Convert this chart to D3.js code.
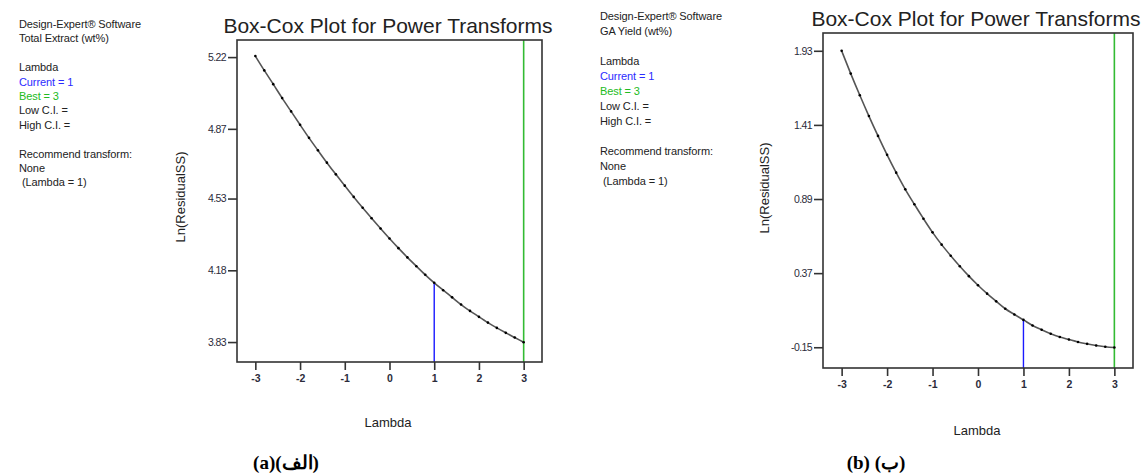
<!DOCTYPE html>
<html lang="en">
<head>
<meta charset="utf-8">
<title>Box-Cox Plots</title>
<script src="https://d3js.org/d3.v7.min.js"></script>
<style>
  body { margin: 0; background: #fff; }
  svg { display: block; font-family: "Liberation Sans", Arial, sans-serif; }
  .tick text { fill: #2b2b3a; font-size: 10.5px; }
  .tick line { stroke: #333; stroke-width: 1.6; }
</style>
</head>
<body>
<svg id="chart" width="1146" height="474"></svg>
<script>
// ---- data ----
var lambdas = [-3, -2.8, -2.6, -2.4, -2.2, -2, -1.8, -1.6, -1.4, -1.2, -1, -0.8, -0.6, -0.4, -0.2,
  0, 0.2, 0.4, 0.6, 0.8, 1, 1.2, 1.4, 1.6, 1.8, 2, 2.2, 2.4, 2.6, 2.8, 3];

var lnSSExtract = [5.225, 5.155, 5.088, 5.020, 4.955, 4.890, 4.826, 4.765, 4.705, 4.648, 4.593,
  4.538, 4.485, 4.434, 4.384, 4.335, 4.288, 4.243, 4.200, 4.158, 4.119, 4.083, 4.048, 4.013,
  3.982, 3.953, 3.925, 3.899, 3.875, 3.852, 3.829];

var lnSSYield = [1.930, 1.770, 1.618, 1.472, 1.333, 1.200, 1.075, 0.958, 0.853, 0.752, 0.656,
  0.570, 0.492, 0.418, 0.349, 0.285, 0.226, 0.172, 0.120, 0.080, 0.042, 0.003, -0.027, -0.055,
  -0.078, -0.096, -0.113, -0.126, -0.138, -0.146, -0.152];

var xTicks = [-3, -2, -1, 0, 1, 2, 3];
var yTicksExtract = [3.83, 4.18, 4.53, 4.87, 5.22];
var yTicksYield = [-0.15, 0.37, 0.89, 1.41, 1.93];

var currentLambda = 1;
var bestLambda = 3;

var infoExtract = ["Design-Expert\u00AE Software", "Total Extract (wt%)", "", "Lambda",
  "Current = 1", "Best = 3", "Low C.I. =", "High C.I. =", "", "Recommend transform:", "None", " (Lambda = 1)"];
var infoYield = ["Design-Expert\u00AE Software", "GA Yield (wt%)", "", "Lambda",
  "Current = 1", "Best = 3", "Low C.I. =", "High C.I. =", "", "Recommend transform:", "None", " (Lambda = 1)"];

var svg = d3.select('#chart');

// plain hyphen for negatives, like the original software
function fmt(spec) {
  var f = d3.format(spec);
  return function(d) { return f(d).replace('\u2212', '-'); };
}

function drawPanel(p) {
  var g = svg.append('g');

  // info block on the left
  g.append('text')
    .attr('x', p.infoX)
    .attr('y', p.infoY)
    .style('font-size', '11px')
    .style('letter-spacing', '-0.1px')
    .selectAll('tspan')
    .data(p.info)
    .enter()
    .append('tspan')
    .attr('x', p.infoX)
    .attr('dy', function(d, i) { return i === 0 ? 0 : p.infoLine; })
    .attr('fill', function(d) {
      if (d.indexOf('Current') === 0) return '#2b2bff';
      if (d.indexOf('Best') === 0) return '#22bb22';
      return '#222';
    })
    .attr('xml:space', 'preserve')
    .text(function(d) { return d === '' ? '\u00A0' : d; });

  var x = d3.scaleLinear().domain([-3.41, 3.41]).range([p.x0, p.x1]);
  var lo = d3.min(p.yTicks), hi = d3.max(p.yTicks), span = hi - lo;
  var y = d3.scaleLinear().domain([lo - 0.07 * span, hi + 0.06 * span]).range([p.y1, p.y0]);

  // axes
  var yAxis = g.append('g')
    .attr('transform', 'translate(' + p.x0 + ',0)')
    .call(d3.axisLeft(y).tickValues(p.yTicks).tickSize(9).tickPadding(2)
      .tickFormat(fmt('.2f')));
  yAxis.select('.domain').remove();
  yAxis.selectAll('text').style('letter-spacing', '-0.6px');

  var xAxis = g.append('g')
    .attr('transform', 'translate(0,' + p.y1 + ')')
    .call(d3.axisBottom(x).tickValues(xTicks).tickSize(8).tickPadding(5)
      .tickFormat(fmt('d')));
  xAxis.select('.domain').remove();
  xAxis.selectAll('text').style('font-weight', 'bold').style('font-size', '10.5px');

  // lambda markers
  var yCur = p.values[lambdas.indexOf(currentLambda)];
  g.append('line')
    .attr('x1', x(currentLambda)).attr('x2', x(currentLambda))
    .attr('y1', y(yCur)).attr('y2', p.y1)
    .attr('stroke', '#1a1aff').attr('stroke-width', 1.4);
  g.append('line')
    .attr('x1', x(bestLambda)).attr('x2', x(bestLambda))
    .attr('y1', p.y0).attr('y2', p.y1)
    .attr('stroke', '#33bb33').attr('stroke-width', 1.6);

  // curve + points
  var pts = lambdas.map(function(l, i) { return [l, p.values[i]]; });
  var line = d3.line()
    .x(function(d) { return x(d[0]); })
    .y(function(d) { return y(d[1]); })
    .curve(d3.curveMonotoneX);
  g.append('path')
    .datum(pts)
    .attr('d', line)
    .attr('fill', 'none')
    .attr('stroke', '#555')
    .attr('stroke-width', 1.6);
  g.selectAll('circle.pt')
    .data(pts)
    .enter()
    .append('circle')
    .attr('class', 'pt')
    .attr('cx', function(d) { return x(d[0]); })
    .attr('cy', function(d) { return y(d[1]); })
    .attr('r', 1.3)
    .attr('fill', '#000');

  // frame
  g.append('rect')
    .attr('x', p.x0).attr('y', p.y0)
    .attr('width', p.x1 - p.x0).attr('height', p.y1 - p.y0)
    .attr('fill', 'none')
    .attr('stroke', '#333')
    .attr('stroke-width', 1.6);

  // titles
  g.append('text')
    .attr('x', p.titleX).attr('y', p.titleY)
    .attr('text-anchor', 'middle')
    .style('font-size', '21px')
    .attr('fill', '#222')
    .text('Box-Cox Plot for Power Transforms');

  g.append('text')
    .attr('transform', 'translate(' + p.yLabX + ',' + p.yLabY + ') rotate(-90)')
    .attr('text-anchor', 'middle')
    .style('font-size', '13px')
    .attr('fill', '#222')
    .text('Ln(ResidualSS)');

  g.append('text')
    .attr('x', p.xLabX).attr('y', p.xLabY)
    .attr('text-anchor', 'middle')
    .style('font-size', '13px')
    .attr('fill', '#222')
    .text('Lambda');

  g.append('text')
    .attr('x', p.capX).attr('y', 469)
    .attr('text-anchor', 'middle')
    .style('font-family', '"Liberation Serif", "DejaVu Serif", serif')
    .style('font-weight', 'bold')
    .style('font-size', '19px')
    .attr('fill', '#000')
    .text(p.caption);
}

drawPanel({
  values: lnSSExtract, yTicks: yTicksExtract, info: infoExtract,
  x0: 237, x1: 542, y0: 40, y1: 362,
  infoX: 19, infoY: 28, infoLine: 14.4,
  titleX: 388, titleY: 33, yLabX: 185, yLabY: 197,
  xLabX: 388, xLabY: 427, capX: 286, caption: '(a)(\u0627\u0644\u0641)'
});

drawPanel({
  values: lnSSYield, yTicks: yTicksYield, info: infoYield,
  x0: 823, x1: 1133, y0: 33, y1: 368,
  infoX: 600, infoY: 20, infoLine: 15,
  titleX: 976, titleY: 26, yLabX: 769, yLabY: 188,
  xLabX: 977, xLabY: 435, capX: 876, caption: '(b) (\u0628)'
});
</script>
</body>
</html>
